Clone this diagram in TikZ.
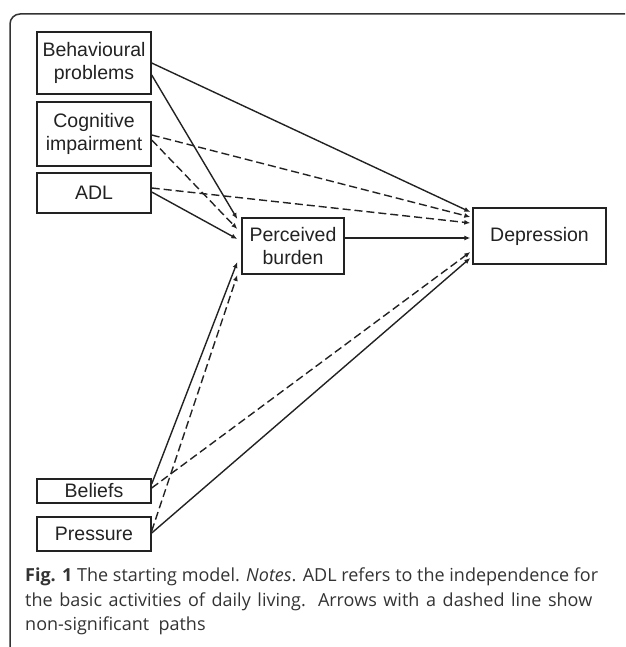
\documentclass[tikz,border=0pt]{standalone}
\usepackage{fontspec}
\setmainfont{Liberation Sans}
\newfontfamily\capfont{Open Sans}
\usetikzlibrary{arrows.meta}
\definecolor{ink}{HTML}{222222}
\definecolor{capink}{HTML}{333333}
\tikzset{
  box/.style={draw=ink, line width=1.4pt, text=ink, align=center, inner sep=0pt,
    font=\fontsize{19.5}{23}\selectfont},
  sig/.style={draw=ink, line width=1.4pt, -{Latex[length=6pt,width=5pt]}},
  nonsig/.style={sig, dash pattern=on 8pt off 4pt},
  captxt/.style={anchor=base west, inner sep=0pt, text=capink, font=\capfont\fontsize{18}{22}\selectfont}
}
\begin{document}
\begin{tikzpicture}[x=1pt,y=-1pt]
\useasboundingbox (0,0) rectangle (625,647);
\draw[capink, line width=1.5pt, rounded corners=10pt] (10,647) -- (10,14) -- (625,14);

\node[box, minimum width=114pt, minimum height=62pt] (beh) at (94,63) {Behavioural\\problems};
\node[box, minimum width=114pt, minimum height=64pt] (cog) at (94,134) {Cognitive\\impairment};
\node[box, minimum width=114pt, minimum height=40pt] (adl) at (94,193) {ADL};
\node[box, minimum width=102pt, minimum height=56pt] (bur) at (293,246) {Perceived\\burden};
\node[box, minimum width=133pt, minimum height=56pt] (dep) at (539.5,236) {Depression};
\node[box, minimum width=114pt, minimum height=24pt] (bel) at (94,491) {Beliefs};
\node[box, minimum width=114pt, minimum height=34pt] (pre) at (94,534) {Pressure};

% to Depression
\draw[sig] (beh.east) -- ([xshift=-2pt,yshift=24pt]dep.west);
\draw[nonsig] ([yshift=-1pt]cog.east) -- ([xshift=-2pt,yshift=19pt]dep.west);
\draw[nonsig] ([yshift=5pt]adl.east) -- ([xshift=-2pt,yshift=13pt]dep.west);
\draw[sig] ([yshift=8pt]bur.east) -- ([xshift=-2pt,yshift=-2pt]dep.west);
\draw[nonsig] ([yshift=3pt]bel.east) -- ([xshift=-2pt,yshift=-16pt]dep.west);
\draw[sig] ([yshift=1pt]pre.east) -- ([xshift=-2pt,yshift=-22pt]dep.west);

% to Perceived burden
\draw[sig] ([yshift=-12pt]beh.east) -- ([xshift=-4pt,yshift=27pt]bur.west);
\draw[nonsig] ([yshift=-6pt]cog.east) -- ([xshift=-4pt,yshift=17pt]bur.west);
\draw[sig] ([yshift=1pt]adl.east) -- ([xshift=-4pt,yshift=7pt]bur.west);
\draw[sig] ([yshift=7pt]bel.east) -- ([xshift=-4pt,yshift=-16pt]bur.west);
\draw[nonsig] ([yshift=3pt]pre.east) -- ([xshift=-4pt,yshift=-29pt]bur.west);

% caption
\node[captxt] (c1) at (25,581) {\makebox[573pt][s]{\textbf{Fig. 1} The starting model. \textit{Notes}. ADL refers to the independence for}};
\node[captxt] (c2) at (25,606) {\makebox[567pt][s]{the basic activities of daily living. Arrows with a dashed line show}};
\node[captxt] (c3) at (25,630) {non-significant\ \ paths};
\end{tikzpicture}
\end{document}
